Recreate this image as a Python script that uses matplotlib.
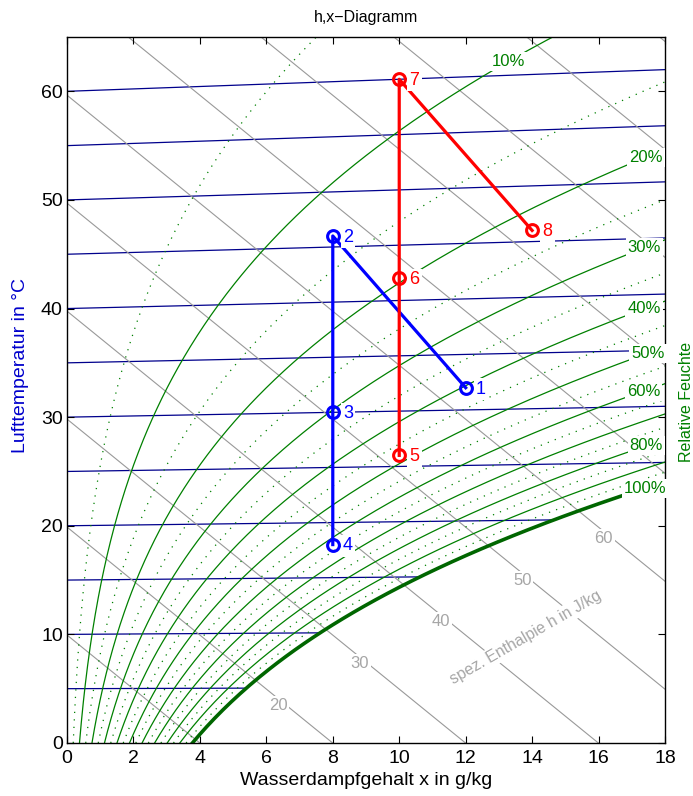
import numpy as np
import matplotlib.pyplot as plt

plt.rcParams['font.family'] = ['Liberation Sans', 'DejaVu Sans']

# Druck in Pa
p = 101325.0

# Prozesspunkte: Wassergehalt in g/kg und Temperatur in °C
blau_x = [12, 8, 8, 8]
blau_t = [32, 46, 30, 18]
blau_namen = ['1', '2', '3', '4']
rot_x = [10, 10, 10, 14]
rot_t = [26, 42, 60, 46]
rot_namen = ['5', '6', '7', '8']

isothermen = [5, 10, 15, 20, 25, 30, 35, 40, 45, 50, 55, 60]
enthalpien = [10, 20, 30, 40, 50, 60, 70, 80, 90, 100, 110]
enthalpie_labels = [20, 30, 40, 50, 60]
phi_voll = [0.1, 0.2, 0.3, 0.4, 0.5, 0.6, 0.7, 0.8, 0.9, 1.0]
phi_punkt = [0.05, 0.15, 0.25, 0.35, 0.45, 0.55, 0.65, 0.75, 0.85, 0.95]
phi_labels = [0.1, 0.2, 0.3, 0.4, 0.5, 0.6, 0.8, 1.0]


def psat(t):
    return 611.2 * np.exp(17.62 * t / (243.12 + t))


def wassergehalt(t, phi):
    pd = phi * psat(t)
    return 622.0 * pd / (p - pd)


def y_koord(t, x):
    # schiefwinkliges h,x-Diagramm: y = (h - 2.501 x) / 1.006
    return t + 0.00186 * x * t / 1.006


fig = plt.figure(figsize=(6.93, 7.96), dpi=100)
ax = fig.add_axes([0.0967, 0.0666, 0.8629, 0.8869])

gruen = (0, 0.5, 0)
grau = (0.6, 0.6, 0.6)
navy = (0, 0, 0.55)
bbox_weiss = dict(boxstyle='square,pad=0.12', fc='white', ec='none')

# Isothermen
for t in isothermen:
    xmax = min(18.0, wassergehalt(t, 1.0))
    xx = np.linspace(0, xmax, 50)
    ax.plot(xx, y_koord(t, xx), color=navy, lw=0.9, zorder=1)

# Linien konstanter Enthalpie
xx = np.linspace(0, 18, 50)
for h in enthalpien:
    ax.plot(xx, (h - 2.501 * xx) / 1.006, color=grau, lw=0.8, zorder=1)
for h in enthalpie_labels:
    xl = 6.35 + (h - 20) * 0.245
    yl = (h - 2.501 * xl) / 1.006 - 0.65
    ax.text(xl, yl, str(h), color=(0.65, 0.65, 0.65), fontsize=12,
            ha='center', va='center', bbox=bbox_weiss, zorder=3)
ax.text(13.8, 9.7, 'spez. Enthalpie h in J/kg', color=(0.65, 0.65, 0.65),
        fontsize=11.4, rotation=30, ha='center', va='center',
        rotation_mode='anchor', bbox=bbox_weiss, zorder=3)

# Linien relativer Feuchte
tt = np.linspace(0, 75, 400)
for phi in phi_punkt:
    xx = wassergehalt(tt, phi)
    ax.plot(xx, y_koord(tt, xx), color=gruen, lw=0.9, ls=(0, (1, 5)), zorder=1)
for phi in phi_voll:
    xx = wassergehalt(tt, phi)
    if phi == 1.0:
        ax.plot(xx, y_koord(tt, xx), color=(0, 0.4, 0), lw=2.6, zorder=2)
    else:
        ax.plot(xx, y_koord(tt, xx), color=gruen, lw=0.9, zorder=2)
for phi in phi_labels:
    xx = wassergehalt(tt, phi)
    yy = y_koord(tt, xx)
    i = np.argmax((xx >= 17.35) | (yy >= 62.7))
    ax.text(xx[i], yy[i], '%d%%' % round(phi * 100), color=gruen, fontsize=12,
            ha='center', va='center', bbox=bbox_weiss, zorder=3)

# Prozesse
bx = np.array(blau_x, dtype=float)
by = y_koord(np.array(blau_t, dtype=float), bx)
rx = np.array(rot_x, dtype=float)
ry = y_koord(np.array(rot_t, dtype=float), rx)
ax.plot(bx, by, color='blue', lw=2.3, marker='o', ms=8.5, mfc='none', mew=2.2, zorder=4)
ax.plot(rx, ry, color='red', lw=2.3, marker='o', ms=8.5, mfc='none', mew=2.2, zorder=4)
for x, y, n in zip(bx, by, blau_namen):
    ax.annotate(n, (x, y), xytext=(11, -1), textcoords='offset points', color='blue',
                fontsize=13, ha='center', va='center', bbox=bbox_weiss, zorder=5)
for x, y, n in zip(rx, ry, rot_namen):
    ax.annotate(n, (x, y), xytext=(11, -1), textcoords='offset points', color='red',
                fontsize=13, ha='center', va='center', bbox=bbox_weiss, zorder=5)

ax.set_xlim(0, 18)
ax.set_ylim(0, 65)
ax.set_xticks(range(0, 19, 2))
ax.set_yticks(range(0, 61, 10))
ax.tick_params(direction='in', top=True, right=True, length=5, width=0.8,
               labelsize=14, pad=5)
ax.tick_params(axis='y', pad=3)
for s in ax.spines.values():
    s.set_linewidth(1.0)

ax.set_title('h,x\u2212Diagramm', fontsize=11.5, pad=11)
ax.set_xlabel('Wasserdampfgehalt x in g/kg', fontsize=14, labelpad=4)
ax.set_ylabel('Lufttemperatur in °C', fontsize=14, color=(0, 0, 0.8))
ax.yaxis.set_label_coords(-0.064, 0.534)
fig.text(0.99, 0.495, 'Relative Feuchte', color=gruen, fontsize=11.5,
         rotation=90, ha='center', va='center')

fig.savefig('out.png', dpi=100)
